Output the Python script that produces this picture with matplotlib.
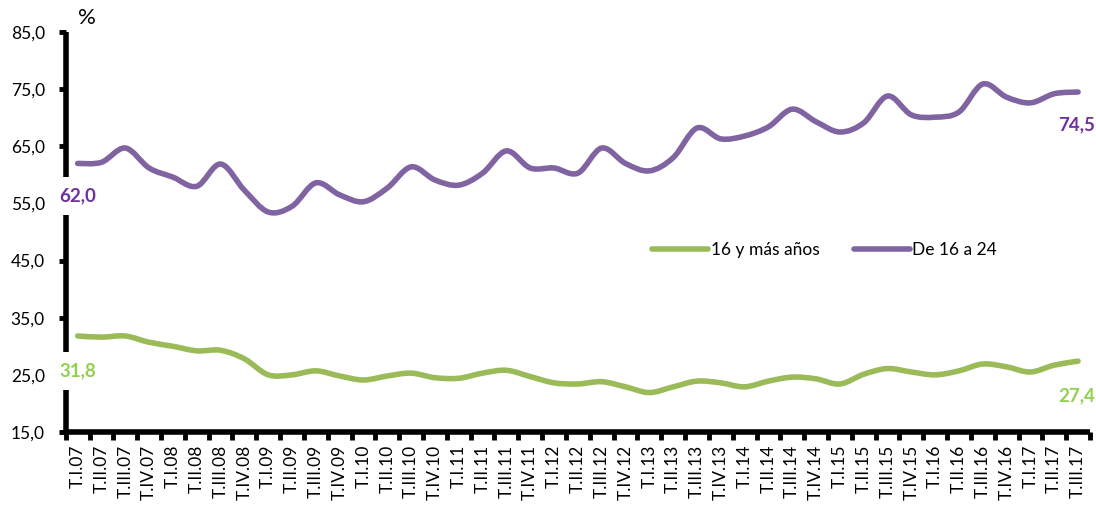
import numpy as np
import matplotlib.pyplot as plt
from matplotlib.path import Path
from matplotlib.patches import PathPatch
from matplotlib.lines import Line2D

# DATA
quarters = ["I", "II", "III", "IV"]
periods = [f"T.{q}.{yy:02d}" for yy in range(7, 18) for q in quarters][:43]

total = [31.8, 31.6, 31.8, 30.7, 30.0, 29.2, 29.3, 27.8, 25.0, 25.0,
         25.7, 24.8, 24.1, 24.8, 25.3, 24.5, 24.4, 25.3, 25.8, 24.7,
         23.6, 23.4, 23.8, 22.9, 21.9, 22.9, 23.9, 23.6, 22.9, 23.9,
         24.6, 24.3, 23.4, 25.1, 26.1, 25.5, 25.0, 25.7, 26.9, 26.4,
         25.5, 26.7, 27.4]
young = [62.0, 62.2, 64.7, 61.2, 59.6, 58.0, 61.9, 57.3, 53.5, 54.5,
         58.6, 56.5, 55.3, 57.7, 61.4, 59.1, 58.2, 60.3, 64.2, 61.2,
         61.2, 60.3, 64.7, 62.0, 60.7, 63.0, 68.2, 66.3, 66.8, 68.4,
         71.5, 69.3, 67.5, 69.1, 73.8, 70.5, 70.1, 71.0, 75.9, 73.6,
         72.6, 74.2, 74.5]
names = ["16 y más años", "De 16 a 24"]

line_colors = ["#9BBB59", "#8064A2"]
text_colors = ["#92D050", "#7030A0"]

plt.rcParams["font.family"] = ["Lato", "DejaVu Sans"]


def smooth_path(x, y):
    # Excel-like smoothed line: cubic bezier through every point
    p = np.column_stack([x, y]).astype(float)
    n = len(p)
    verts = [p[0]]
    codes = [Path.MOVETO]
    for i in range(n - 1):
        p0 = p[i - 1] if i > 0 else p[i]
        p3 = p[i + 2] if i + 2 < n else p[i + 1]
        c1 = p[i] + (p[i + 1] - p0) / 6.0
        c2 = p[i + 1] - (p3 - p[i]) / 6.0
        verts += [c1, c2, p[i + 1]]
        codes += [Path.CURVE4] * 3
    return Path(verts, codes)


def fmt(v):
    return f"{v:.1f}".replace(".", ",")


fig = plt.figure(figsize=(10.96, 5.05), dpi=100)
ax = fig.add_axes([0.060, 0.1446, 0.9345, 0.792])

x = np.arange(len(periods))
for ys, col in zip([total, young], line_colors):
    ax.add_patch(PathPatch(smooth_path(x, ys), fill=False, edgecolor=col,
                           lw=4.0, capstyle="round", joinstyle="round", zorder=3))

ax.set_xlim(-0.5, len(periods) - 0.5)
ax.set_ylim(15, 85)
yt = np.arange(15, 86, 10)
ax.set_yticks(yt)
ax.set_yticklabels([fmt(v) for v in yt], fontsize=12.5)
ax.set_xticks(x)
ax.set_xticklabels(periods, rotation=90, fontsize=12.5)
ax.set_xticks(np.arange(-0.5, len(periods), 1.0), minor=True)
ax.tick_params(axis="x", which="major", length=0, pad=9)
ax.tick_params(axis="x", which="minor", length=6, width=3.5, direction="out")
ax.tick_params(axis="y", length=5, width=3.5, direction="out", pad=10)

for s in ["top", "right"]:
    ax.spines[s].set_visible(False)
for s in ["left", "bottom"]:
    ax.spines[s].set_linewidth(4.0)
    ax.spines[s].set_capstyle("butt")

ax.text(0.012, 1.01, "%", transform=ax.transAxes, fontsize=16,
        ha="left", va="bottom")

# data labels at the ends (white box hides the axis behind them)
lab_style = dict(fontsize=13.5, fontweight="bold", ha="center", va="center",
                 zorder=5, clip_on=False,
                 bbox=dict(boxstyle="square,pad=0.55", facecolor="white",
                           edgecolor="none"))
last = len(periods) - 1
ax.text(0, young[0] - 5.7, fmt(young[0]), color=text_colors[1], **lab_style)
ax.text(0, total[0] - 6.1, fmt(total[0]), color=text_colors[0], **lab_style)
ax.text(last - 0.05, young[-1] - 5.8, fmt(young[-1]), color=text_colors[1], **lab_style)
ax.text(last - 0.05, total[-1] - 6.0, fmt(total[-1]), color=text_colors[0], **lab_style)

handles = [Line2D([], [], color=c, lw=4.0, solid_capstyle="round")
           for c in line_colors]
ax.legend(handles, names, loc="center", bbox_to_anchor=(0.741, 0.455),
          ncol=2, frameon=False, fontsize=12.5, handlelength=3.2,
          columnspacing=2.0, handletextpad=0.15)

plt.savefig("out.png", dpi=100)
